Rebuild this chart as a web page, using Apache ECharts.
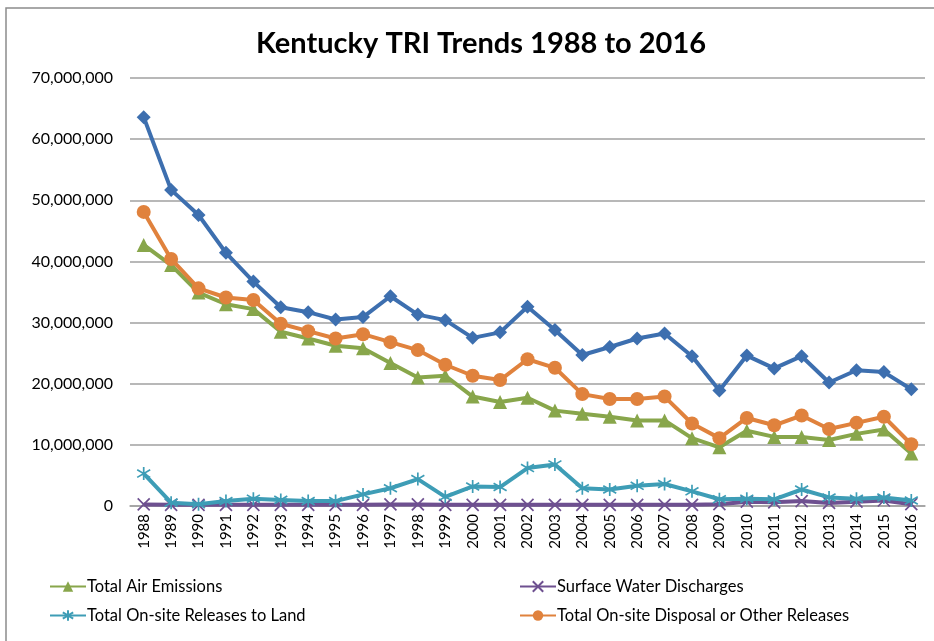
<!DOCTYPE html>
<html>
<head>
<meta charset="utf-8">
<script src="https://cdn.jsdelivr.net/npm/echarts@6/dist/echarts.min.js"></script>
<style>
html,body{margin:0;padding:0;background:#fff;}
#chart{width:934px;height:641px;}
</style>
</head>
<body>
<div id="chart"></div>
<script>
var years = ['1988','1989','1990','1991','1992','1993','1994','1995','1996','1997','1998','1999','2000','2001','2002','2003','2004','2005','2006','2007','2008','2009','2010','2011','2012','2013','2014','2015','2016'];

var totalReleases = [63600000,51700000,47600000,41400000,36700000,32500000,31700000,30500000,30900000,34300000,31300000,30400000,27500000,28400000,32600000,28800000,24700000,26000000,27400000,28200000,24500000,18900000,24600000,22500000,24500000,20200000,22200000,21900000,19100000];

var onsiteDisposal = [48100000,40400000,35600000,34100000,33700000,29800000,28600000,27400000,28100000,26800000,25500000,23100000,21300000,20600000,24000000,22600000,18300000,17500000,17500000,17900000,13500000,11100000,14400000,13200000,14800000,12600000,13600000,14600000,10100000];

var airEmissions = [42700000,39400000,34900000,33000000,32200000,28500000,27400000,26200000,25800000,23400000,21000000,21300000,17900000,17000000,17700000,15600000,15100000,14600000,14000000,14000000,11100000,9600000,12300000,11300000,11300000,10800000,11800000,12500000,8600000];

var landReleases = [5300000,550000,300000,800000,1200000,1000000,800000,800000,1900000,2900000,4400000,1500000,3200000,3100000,6200000,6800000,2900000,2700000,3300000,3600000,2400000,1100000,1200000,1100000,2700000,1400000,1200000,1400000,900000];

var surfaceWater = [250000,200000,200000,200000,200000,200000,200000,200000,200000,250000,250000,200000,200000,200000,200000,200000,200000,200000,200000,200000,200000,300000,700000,600000,800000,500000,700000,900000,300000];

var yTicks = [0,10000000,20000000,30000000,40000000,50000000,60000000,70000000];

var chart = echarts.init(document.getElementById('chart'));
var FONT = 'Lato';
var C = {blue:'#3D6FAF', orange:'#E0823D', green:'#88A64B', purple:'#6E5090', teal:'#3E9DB6'};

function lineSeries(name, data, color, symbol, size, hollow, z) {
  return {
    name: name, type: 'line', data: data, z: z,
    symbol: symbol, symbolSize: size,
    lineStyle: {color: color, width: 4},
    itemStyle: hollow ? {color: 'none', borderColor: color, borderWidth: 1.7} : {color: color, borderWidth: 0},
    emphasis: {disabled: true},
    animation: false
  };
}

var starPath = 'path://M6,0 L6,12 M0,2.5 L12,9.5 M0,9.5 L12,2.5';
var xPath = 'path://M0,0 L12,12 M0,12 L12,0';

chart.setOption({
  backgroundColor: '#fff',
  animation: false,
  title: {
    text: 'Kentucky TRI Trends 1988 to 2016',
    left: 251, top: 24,
    textStyle: {fontFamily: FONT, fontSize: 29, fontWeight: 'bold', color: '#000'}
  },
  graphic: [{
    type: 'rect', shape: {x: 6, y: 8, width: 940, height: 650},
    style: {fill: 'none', stroke: '#8c8c8c', lineWidth: 1.5}, silent: true, z: -1
  }],
  legend: [{
    data: ['Total Air Emissions', 'Total On-site Releases to Land'],
    orient: 'vertical', left: 44, top: 573, itemGap: 12,
    itemWidth: 36, itemHeight: 13,
    textStyle: {fontFamily: FONT, fontSize: 16.5, color: '#000', padding: [0,0,0,-4]}
  }, {
    data: ['Surface Water Discharges', 'Total On-site Disposal or Other Releases'],
    orient: 'vertical', left: 514, top: 573, itemGap: 12,
    itemWidth: 36, itemHeight: 13,
    textStyle: {fontFamily: FONT, fontSize: 16.5, color: '#000', padding: [0,0,0,-4]}
  }],
  grid: {left: 130, right: 9, top: 78, bottom: 135, containLabel: false},
  xAxis: {
    type: 'category', data: years, boundaryGap: true,
    axisLine: {show: true, lineStyle: {color: '#a0a0a0', width: 1.5}},
    axisTick: {show: false},
    axisLabel: {rotate: 90, interval: 0, margin: 8, fontFamily: FONT, fontSize: 15, color: '#000'}
  },
  yAxis: {
    type: 'value', min: yTicks[0], max: yTicks[yTicks.length - 1], interval: 10000000,
    axisLine: {show: false}, axisTick: {show: false},
    splitLine: {lineStyle: {color: '#a0a0a0', width: 1.5}},
    axisLabel: {
      margin: 17, fontFamily: FONT, fontSize: 16, color: '#000',
      formatter: function (v) { return v.toLocaleString('en-US'); }
    }
  },
  series: [
    lineSeries('Total Air Emissions', airEmissions, C.green, 'triangle', 14, false, 2),
    lineSeries('Surface Water Discharges', surfaceWater, C.purple, xPath, 12, true, 3),
    lineSeries('Total On-site Releases to Land', landReleases, C.teal, starPath, 13, true, 4),
    lineSeries('Total On-site Disposal or Other Releases', onsiteDisposal, C.orange, 'circle', 14, false, 5),
    lineSeries('Total Releases', totalReleases, C.blue, 'diamond', 14, false, 6)
  ]
});
</script>
</body>
</html>
